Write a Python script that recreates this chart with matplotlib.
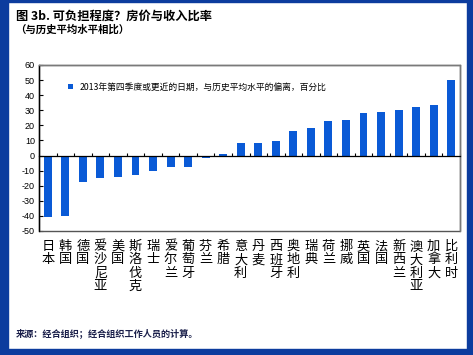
import matplotlib
matplotlib.use("Agg")
import matplotlib.pyplot as plt
from matplotlib.patches import Rectangle
import numpy as np

plt.rcParams['font.family'] = ['Noto Sans CJK SC', 'DejaVu Sans']

countries = ["日本", "韩国", "德国", "爱沙尼亚", "美国", "斯洛伐克", "瑞士", "爱尔兰", "葡萄牙",
             "芬兰", "希腊", "意大利", "丹麦", "西班牙", "奥地利", "瑞典", "荷兰", "挪威",
             "英国", "法国", "新西兰", "澳大利亚", "加拿大", "比利时"]
values = [-41, -40, -17.3, -14.6, -14, -12.6, -10.2, -7.8, -7.3,
          -1.3, 1.1, 8, 8.2, 9.6, 16, 18, 22.9, 23.7,
          28, 29, 30, 32, 33.5, 50]
yticks = list(range(-50, 61, 10))
title = "图 3b. 可负担程度？房价与收入比率"
subtitle = "（与历史平均水平相比）"
legend_label = "2013年第四季度或更近的日期，与历史平均水平的偏离，百分比"
source = "来源：经合组织；经合组织工作人员的计算。"

W, H = 473, 355
fig = plt.figure(figsize=(W / 100, H / 100), dpi=100)
fig.patch.set_facecolor('white')

border = '#0c3c9e'
fig.patches.append(Rectangle((0, 0), 8 / W, 1, transform=fig.transFigure, color=border, zorder=0))
fig.patches.append(Rectangle((1 - 6 / W, 0), 6 / W, 1, transform=fig.transFigure, color=border, zorder=0))
fig.patches.append(Rectangle((0, 0), 1, 6 / H, transform=fig.transFigure, color=border, zorder=0))
fig.patches.append(Rectangle((0, 1 - 1.5 / H), 1, 1.5 / H, transform=fig.transFigure, color=border, zorder=0))

ax_l, ax_r, ax_t, ax_b = 39, 460, 65, 231
ax = fig.add_axes([ax_l / W, 1 - ax_b / H, (ax_r - ax_l) / W, (ax_b - ax_t) / H])

x = np.arange(len(countries))
bars = ax.bar(x, values, width=0.45, color='#0a5ad6', label=legend_label, zorder=3)

ax.set_xlim(-0.5, len(countries) - 0.5)
ax.set_ylim(-50, 60)
ax.set_yticks(yticks)
ax.set_yticklabels([str(v) for v in yticks], fontsize=6.5, family=['Liberation Sans'])
ax.tick_params(axis='y', direction='in', length=3, width=0.8, pad=3, colors='black')

for s in ['top', 'right', 'left']:
    ax.spines[s].set_color('#7a7a7a')
    ax.spines[s].set_linewidth(1.0)
ax.spines['left'].set_color('black')
ax.spines['bottom'].set_position(('data', 0))
ax.spines['bottom'].set_color('black')
ax.spines['bottom'].set_linewidth(0.9)
ax.spines['bottom'].set_zorder(4)
ax.add_patch(Rectangle((0, 0), 1, 1, transform=ax.transAxes, fill=False,
                       edgecolor='#555555', linewidth=1.0, zorder=2, clip_on=False))

ax.set_xticks(np.arange(0.5, len(countries), 1))
ax.set_xticklabels([])
ax.tick_params(axis='x', direction='in', length=2.5, width=0.8, colors='black')

trans = matplotlib.transforms.blended_transform_factory(ax.transData, ax.transAxes)
for i, c in enumerate(countries):
    ax.text(i, -0.055, "\n".join(c), transform=trans, ha='center', va='top',
            fontsize=9.5, linespacing=1.02, color='black')

leg = ax.legend(loc='center left', bbox_to_anchor=(0.06, 0.867), frameon=False,
                fontsize=6.3, handlelength=0.6, handleheight=0.6, handletextpad=0.8,
                borderaxespad=0)

fig.text(16 / W, 1 - 16 / H, title, fontsize=8.8, fontweight='bold', va='center', ha='left')
fig.text(15 / W, 1 - 29.5 / H, subtitle, fontsize=7.5, fontweight='bold', va='center', ha='left')
fig.text(16 / W, 1 - 333 / H, source, fontsize=6.6, fontweight='bold', va='center', ha='left',
         color='#1a1f4a')

fig.savefig('out.png', dpi=100)
